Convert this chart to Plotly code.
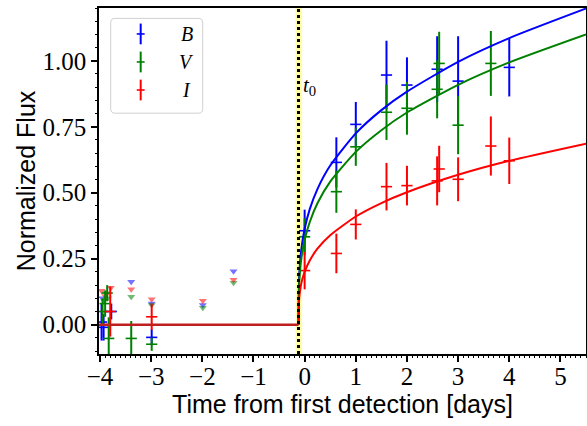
import plotly.graph_objects as go

# ---------------- data ----------------
B_t = [-3.97, -3.93, -3.78, -2.99, 0.0, 0.62, 1.0, 1.6, 2.0, 2.59, 3.0, 4.0]
B_f = [0.01, -0.01, 0.05, -0.048, 0.356, 0.615, 0.759, 0.946, 0.908, 0.968, 0.923, 0.975]
B_e = [0.07, 0.05, 0.03, 0.03, 0.08, 0.095, 0.085, 0.13, 0.105, 0.125, 0.17, 0.11]

V_t = [-3.95, -3.9, -3.86, -3.83, -3.39, -2.99, 0.0, 0.62, 1.0, 1.6, 2.0, 2.59, 2.63, 3.0, 3.64]
V_f = [0.05, 0.08, 0.12, -0.052, -0.052, -0.074, 0.333, 0.504, 0.674, 0.805, 0.82, 0.892, 0.99, 0.756, 0.99]
V_e = [0.05, 0.05, 0.03, 0.08, 0.066, 0.025, 0.07, 0.08, 0.072, 0.105, 0.1, 0.11, 0.12, 0.11, 0.123]

I_t = [-3.8, -2.99, 0.0, 0.62, 1.0, 1.6, 2.0, 2.59, 2.63, 3.0, 3.64, 4.0]
I_f = [0.05, 0.03, 0.205, 0.27, 0.38, 0.523, 0.527, 0.545, 0.59, 0.551, 0.677, 0.621]
I_e = [0.095, 0.05, 0.071, 0.075, 0.057, 0.09, 0.075, 0.093, 0.088, 0.083, 0.112, 0.088]

# upper limits
B_lim_t = [-3.95, -3.39, -2.99, -1.99, -1.39]
B_lim_f = [0.10, 0.163, 0.08, 0.075, 0.203]
V_lim_t = [-3.92, -3.85, -3.39, -2.99, -1.99, -1.39]
V_lim_f = [0.09, 0.10, 0.106, 0.075, 0.064, 0.159]
I_lim_t = [-3.97, -3.9, -3.87, -3.79, -3.39, -2.99, -1.99, -1.39]
I_lim_f = [0.129, 0.109, 0.119, 0.14, 0.134, 0.096, 0.091, 0.17]

# model curves
model_t = [-0.12, -0.11, -0.10, -0.08, -0.05, 0.0, 0.1, 0.25, 0.5, 1.0, 1.5, 2.0, 3.0, 4.0, 5.5]
model_B = [0, 0.168, 0.208, 0.258, 0.307, 0.363, 0.438, 0.514, 0.603, 0.725, 0.813, 0.883, 0.996, 1.086, 1.198]
model_V = [0, 0.145, 0.181, 0.226, 0.270, 0.321, 0.389, 0.460, 0.542, 0.655, 0.737, 0.804, 0.909, 0.994, 1.100]
model_I = [0, 0.090, 0.113, 0.141, 0.169, 0.200, 0.243, 0.288, 0.339, 0.410, 0.461, 0.502, 0.568, 0.621, 0.686]
flat_t = [-4.2, -0.12]
flat_f = [0, 0]

t0 = -0.12
t0_band = [-0.18, -0.05]

bands = ["B", "V", "I"]
colors = {"B": "#0000ff", "V": "#008000", "I": "#ff0000"}
lim_colors = {"B": "rgba(0,0,255,0.55)", "V": "rgba(0,128,0,0.55)", "I": "rgba(255,0,0,0.55)"}

det = {"B": (B_t, B_f, B_e), "V": (V_t, V_f, V_e), "I": (I_t, I_f, I_e)}
lims = {"B": (B_lim_t, B_lim_f), "V": (V_lim_t, V_lim_f), "I": (I_lim_t, I_lim_f)}
models = {"B": model_B, "V": model_V, "I": model_I}

fig = go.Figure()

# t0 band and line
fig.add_shape(type="rect", xref="x", yref="paper", x0=t0_band[0], x1=t0_band[1], y0=0, y1=1,
              fillcolor="rgba(255,255,90,0.55)", line_width=0, layer="below")

for b in bands:
    lt, lf = lims[b]
    fig.add_trace(go.Scatter(x=lt, y=lf, mode="markers", showlegend=False,
                             marker=dict(symbol="triangle-down", size=7, color=lim_colors[b], line_width=0)))

for b in bands:
    t, f, e = det[b]
    fig.add_trace(go.Scatter(x=t, y=f, mode="markers", showlegend=False,
                             error_y=dict(type="data", array=e, visible=True, color=colors[b], thickness=2, width=0),
                             marker=dict(symbol="line-ew", size=8, color=colors[b],
                                         line=dict(color=colors[b], width=1.6))))

for b in bands:
    fig.add_trace(go.Scatter(x=model_t, y=models[b], mode="lines", showlegend=False,
                             line=dict(color=colors[b], width=2, shape="spline", smoothing=0.6)))

fig.add_trace(go.Scatter(x=flat_t, y=flat_f, mode="lines", showlegend=False,
                         line=dict(color="#bf1f1f", width=2.6)))

fig.add_shape(type="line", xref="x", yref="paper", x0=t0, x1=t0, y0=0, y1=1,
              line=dict(color="black", width=3, dash="dot"))

fig.add_annotation(x=-0.08, y=0.905, xref="x", yref="y", text="<i>t</i><sub>0</sub>", showarrow=False,
                   xanchor="left", yanchor="middle", font=dict(family="Liberation Serif", size=21, color="black"))

# legend (drawn manually, matplotlib-like)
x0, x1, y0, y1 = 0.024, 0.213, 0.696, 0.970
rx, ry = 0.009, 0.013
path = (f"M {x0+rx},{y1} L {x1-rx},{y1} Q {x1},{y1} {x1},{y1-ry} L {x1},{y0+ry} Q {x1},{y0} {x1-rx},{y0} "
        f"L {x0+rx},{y0} Q {x0},{y0} {x0},{y0+ry} L {x0},{y1-ry} Q {x0},{y1} {x0+rx},{y1} Z")
fig.add_shape(type="path", xref="paper", yref="paper", path=path,
              fillcolor="rgba(255,255,255,0.8)", line=dict(color="#d0d0d0", width=1))
leg_y = [0.925, 0.844, 0.763]
for b, yy in zip(bands, leg_y):
    fig.add_shape(type="line", xref="paper", yref="paper", x0=0.0856, x1=0.0856, y0=yy - 0.03, y1=yy + 0.03,
                  line=dict(color=colors[b], width=2))
    fig.add_shape(type="line", xref="paper", yref="paper", x0=0.0775, x1=0.0937, y0=yy, y1=yy,
                  line=dict(color=colors[b], width=1.6))
    fig.add_annotation(x=0.18, y=yy, xref="paper", yref="paper", text=f"<i>{b}</i>", showarrow=False,
                       xanchor="center", yanchor="middle",
                       font=dict(family="Liberation Serif", size=20, color="black"))

tickfont = dict(family="Liberation Serif", size=25, color="black")
titlefont = dict(family="Liberation Sans", size=25, color="black")

fig.update_layout(
    width=587, height=426,
    margin=dict(l=99, r=1, t=8, b=72),
    plot_bgcolor="white", paper_bgcolor="white",
    showlegend=False,
    xaxis=dict(range=[-4.02, 5.5], tickmode="array", tickvals=[-4, -3, -2, -1, 0, 1, 2, 3, 4, 5],
               ticks="outside", ticklen=6, tickwidth=1.5, tickcolor="black",
               minor=dict(dtick=0.1, ticks="outside", ticklen=2.5, tickwidth=1, tickcolor="black"),
               showline=True, linecolor="black", linewidth=1.5, mirror=True, automargin=False,
               showgrid=False, zeroline=False, tickfont=tickfont, ticklabelstandoff=-7,
               title=dict(text="Time from first detection [days]", font=titlefont, standoff=7)),
    yaxis=dict(range=[-0.111, 1.2], tickmode="array", tickvals=[0, 0.25, 0.5, 0.75, 1.0],
               ticktext=["0.00", "0.25", "0.50", "0.75", "1.00"],
               ticks="outside", ticklen=6, tickwidth=1.5, tickcolor="black",
               minor=dict(dtick=0.05, ticks="outside", ticklen=2.5, tickwidth=1, tickcolor="black"),
               showline=True, linecolor="black", linewidth=1.5, mirror=True, automargin=False,
               showgrid=False, zeroline=False, tickfont=tickfont,
               title=dict(text="Normalized Flux", font=titlefont, standoff=0)),
)

fig.write_html("out.html", config={"displayModeBar": False},
               post_script="document.body.style.margin='0px';")
